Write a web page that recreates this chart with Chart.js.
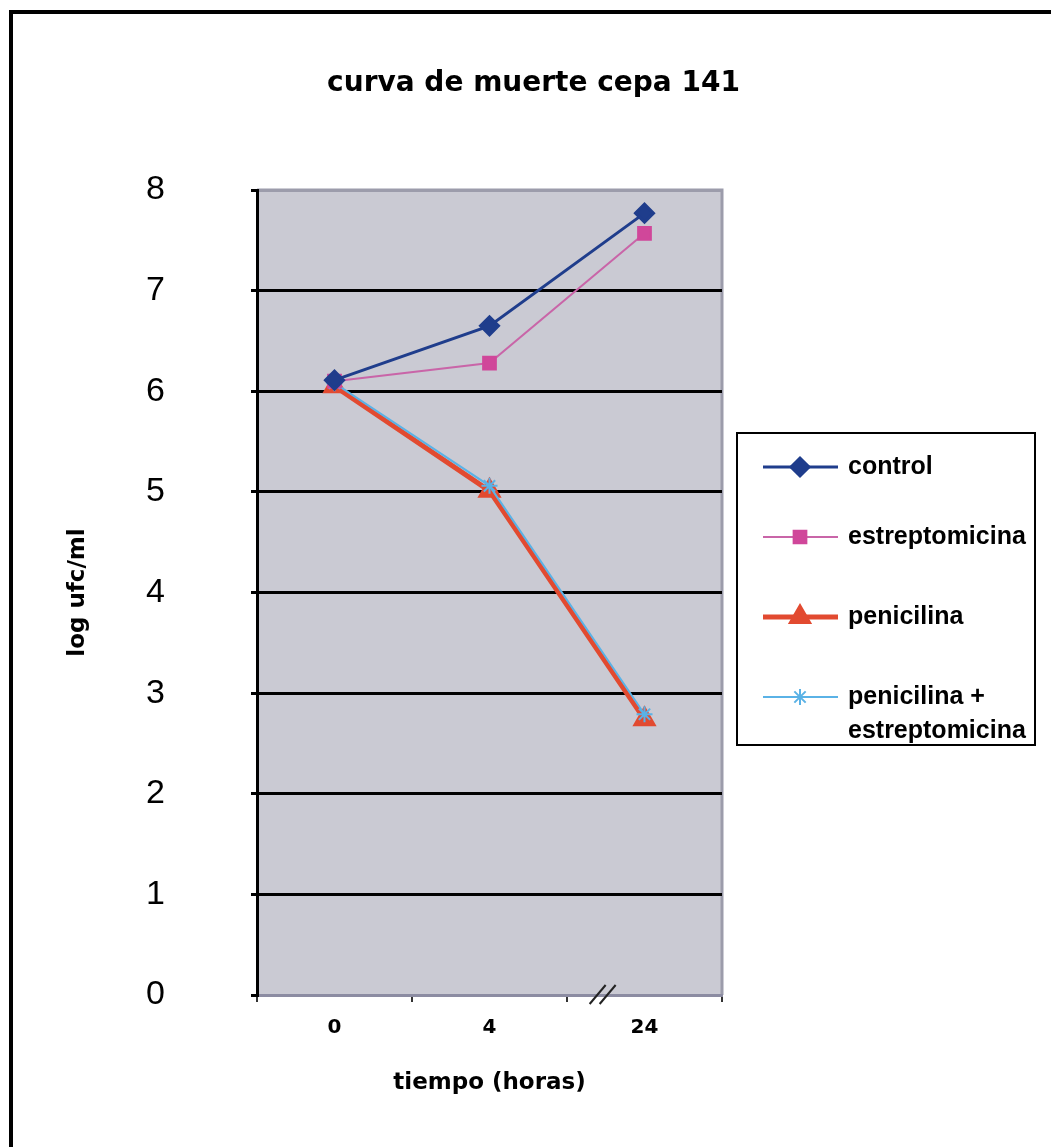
<!DOCTYPE html>
<html>
<head>
<meta charset="utf-8">
<title>curva de muerte cepa 141</title>
<script src="https://cdn.jsdelivr.net/npm/chart.js@4/dist/chart.umd.min.js"></script>
<style>
  body { margin: 0; background: #fff; }
  #wrap { position: relative; width: 1051px; height: 1147px; }
  #frame { position: absolute; left: 9px; top: 10px; right: 0; bottom: 0;
           border-top: 4px solid #000; border-left: 4px solid #000; pointer-events: none; }
</style>
</head>
<body>
<div id="wrap">
  <canvas id="chartMuerte" width="1051" height="1147"></canvas>
  <div id="frame"></div>
</div>
<script>
// horas de muestreo
const horas = ['0', '4', '24'];
const yTicks = [0, 1, 2, 3, 4, 5, 6, 7, 8];

// log ufc/ml por tratamiento
const control = [6.11, 6.65, 7.77];
const estreptomicina = [6.10, 6.28, 7.57];
const penicilina = [6.05, 5.01, 2.74];
const penEstrep = [6.08, 5.06, 2.79];

const nombres = ['control', 'estreptomicina', 'penicilina', 'penicilina + estreptomicina'];
const titulo = 'curva de muerte cepa 141';

const data = {
  labels: horas,
  datasets: [{
    label: nombres[0],
    data: control,
    borderColor: '#1f3d8c',
    backgroundColor: '#1f3d8c',
    borderWidth: 3,
    pointStyle: 'rectRot',
    pointRadius: 9,
    order: 1
  }, {
    label: nombres[1],
    data: estreptomicina,
    borderColor: '#c965a8',
    backgroundColor: '#d0479a',
    pointBorderColor: '#d0479a',
    borderWidth: 2,
    pointStyle: 'rect',
    pointRadius: 9,
    order: 2
  }, {
    label: nombres[2],
    data: penicilina,
    borderColor: '#e24a30',
    backgroundColor: '#e24a30',
    borderWidth: 5,
    pointStyle: 'triangle',
    pointRadius: 9,
    order: 4
  }, {
    label: nombres[3],
    data: penEstrep,
    borderColor: '#5ab2e6',
    backgroundColor: '#5ab2e6',
    borderWidth: 2,
    pointStyle: 'star',
    pointRadius: 8,
    pointBorderWidth: 2,
    order: 3
  }]
};

// fondo gris del area de trazado y bordes grises arriba/derecha
const fondo = {
  id: 'fondo',
  beforeDraw(chart) {
    const { ctx, chartArea: a } = chart;
    ctx.save();
    ctx.fillStyle = '#cacad3';
    ctx.fillRect(a.left, a.top, a.right - a.left, a.bottom - a.top);
    ctx.strokeStyle = '#9c9cab';
    ctx.lineWidth = 3;
    ctx.beginPath();
    ctx.moveTo(a.left, a.top);
    ctx.lineTo(a.right, a.top);
    ctx.lineTo(a.right, a.bottom);
    ctx.stroke();
    ctx.restore();
  }
};

// titulo centrado en todo el ancho, no solo sobre el area de trazado
const tituloCentrado = {
  id: 'tituloCentrado',
  afterDraw(chart) {
    const { ctx } = chart;
    ctx.save();
    ctx.font = 'bold 28px "DejaVu Sans", sans-serif';
    ctx.fillStyle = '#000';
    ctx.textAlign = 'center';
    ctx.textBaseline = 'middle';
    ctx.fillText(titulo, chart.width / 2 + 8, 84);
    ctx.restore();
  }
};

// marca de corte "//" sobre el eje x entre 4 y 24
const corte = {
  id: 'corte',
  afterDraw(chart) {
    const { ctx } = chart;
    const x = chart.scales.x.getPixelForValue(1.73);
    const y = chart.scales.y.getPixelForValue(0);
    ctx.save();
    ctx.strokeStyle = '#222';
    ctx.lineWidth = 2;
    [-5, 5].forEach(function (d) {
      ctx.beginPath();
      ctx.moveTo(x + d - 8, y + 9);
      ctx.lineTo(x + d + 8, y - 10);
      ctx.stroke();
    });
    ctx.restore();
  }
};

// leyenda con linea + marcador, dibujada en el canvas
const leyenda = {
  id: 'leyenda',
  afterDraw(chart) {
    const { ctx } = chart;
    const box = { left: 737, top: 433, right: 1035, bottom: 745 };
    const filas = [467, 537, 617, 697];
    ctx.save();
    ctx.strokeStyle = '#000';
    ctx.lineWidth = 2;
    ctx.strokeRect(box.left, box.top, box.right - box.left, box.bottom - box.top);
    ctx.font = 'bold 25px "Liberation Sans", Arial, sans-serif';
    ctx.textBaseline = 'middle';
    chart.data.datasets.forEach(function (ds, i) {
      const y = filas[i];
      ctx.strokeStyle = ds.borderColor;
      ctx.lineWidth = ds.borderWidth;
      ctx.beginPath();
      ctx.moveTo(763, y);
      ctx.lineTo(838, y);
      ctx.stroke();
      ctx.fillStyle = ds.backgroundColor;
      ctx.strokeStyle = ds.pointBorderColor || ds.borderColor;
      Chart.helpers.drawPoint(ctx, {
        pointStyle: ds.pointStyle,
        radius: ds.pointRadius,
        rotation: 0,
        borderWidth: ds.pointBorderWidth || 1
      }, 800, y);
      // partir el texto si no cabe en la caja
      ctx.fillStyle = '#000';
      const maxW = box.right - 848 - 4;
      let lineas = [ds.label];
      if (ctx.measureText(ds.label).width > maxW) {
        const p = ds.label.split(' ');
        lineas = [p.slice(0, p.length - 1).join(' '), p[p.length - 1]];
      }
      lineas.forEach(function (t, k) {
        ctx.fillText(t, 848, y + k * 34);
      });
    });
    ctx.restore();
  }
};

const config = {
  type: 'line',
  data,
  options: {
    responsive: false,
    animation: false,
    layout: { padding: { left: 52, right: 329, top: 190, bottom: 50 } },
    plugins: {
      legend: { display: false },
      tooltip: { enabled: false },
      title: { display: false }
    },
    scales: {
      x: {
        offset: true,
        grid: { offset: true, drawOnChartArea: false, color: '#333', tickLength: 7, lineWidth: 2 },
        border: { color: '#8c8ca2', width: 3 },
        ticks: {
          color: '#000',
          padding: 14,
          maxRotation: 0,
          font: { family: '"DejaVu Sans", sans-serif', size: 20, weight: 'bold' }
        },
        title: {
          display: true,
          text: 'tiempo (horas)',
          color: '#000',
          font: { family: '"DejaVu Sans", sans-serif', size: 23, weight: 'bold' },
          padding: { top: 0, bottom: 0 }
        },
        afterFit(s) { s.height = 102; }
      },
      y: {
        min: 0,
        max: 8,
        afterBuildTicks(s) { s.ticks = yTicks.map(v => ({ value: v })); },
        grid: {
          color: c => (c.tick && (c.tick.value === 8 || c.tick.value === 0)) ? '#9c9cab' : '#000',
          tickColor: '#000',
          lineWidth: 3,
          tickLength: 6
        },
        border: { color: '#000', width: 3 },
        ticks: {
          color: '#000',
          padding: 86,
          font: { family: '"Liberation Sans Narrow", "Liberation Sans", sans-serif', size: 34 }
        },
        title: {
          display: true,
          text: 'log ufc/ml',
          color: '#000',
          font: { family: '"DejaVu Sans", sans-serif', size: 23, weight: 'bold' },
          padding: { top: 12, bottom: 0 }
        },
        afterFit(s) { s.width = 205; }
      }
    }
  },
  plugins: [fondo, corte, leyenda, tituloCentrado]
};

const myChart = new Chart(document.getElementById('chartMuerte'), config);
</script>
</body>
</html>
